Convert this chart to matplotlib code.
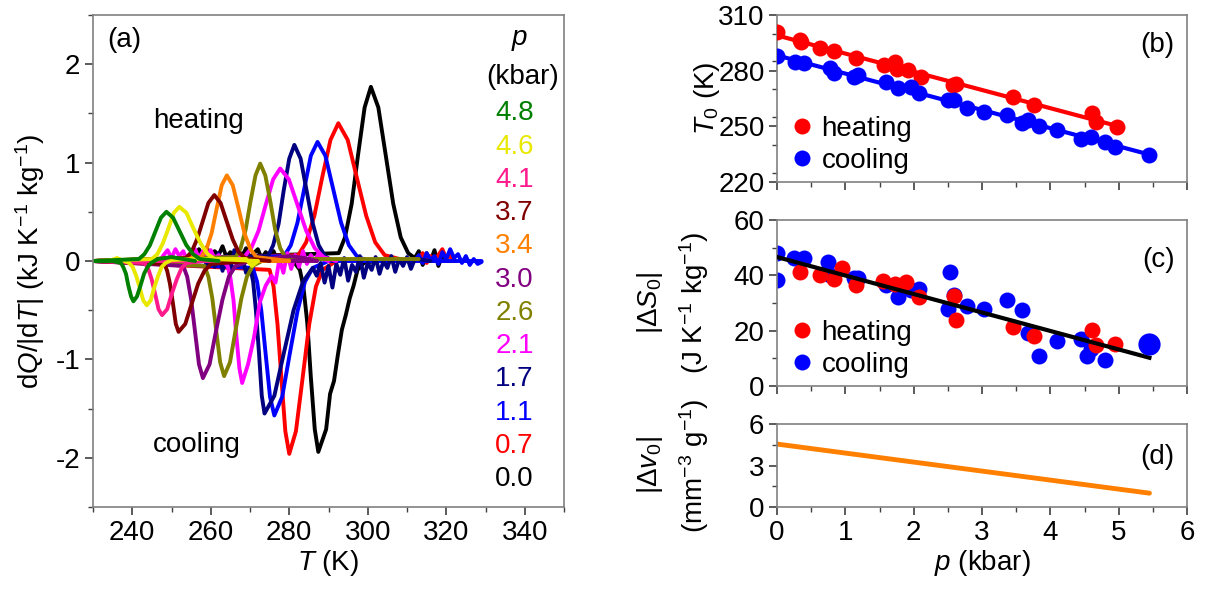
import numpy as np
import matplotlib
matplotlib.use("Agg")
import matplotlib.pyplot as plt
from matplotlib.ticker import MultipleLocator

plt.rcParams['font.family'] = ['Liberation Sans', 'DejaVu Sans']
plt.rcParams['mathtext.fontset'] = 'custom'
plt.rcParams['mathtext.rm'] = 'Liberation Sans'
plt.rcParams['mathtext.it'] = 'Liberation Sans:italic'
plt.rcParams['mathtext.bf'] = 'Liberation Sans:bold'
plt.rcParams['axes.unicode_minus'] = False

FS = 20

# ---------------- Panel (a) data ----------------
pressures = ["4.8", "4.6", "4.1", "3.7", "3.4", "3.0", "2.6", "2.1", "1.7", "1.1", "0.7", "0.0"]
colors = ["#008000", "#e8e800", "#ff1a8c", "#800000", "#ff8000", "#800080",
          "#808000", "#ff00ff", "#000080", "#0000ff", "#ff0000", "#000000"]

heat_T = [
    [230, 241.7, 243.1, 244.5, 245.9, 247.3, 248.7, 250.4, 252.1, 253.8, 255.5, 257.2, 262],
    [230, 245.0, 246.4, 247.8, 249.2, 250.6, 252.0, 253.8, 255.6, 257.4, 259.2, 261.0, 272],
    [230, 262],
    [230, 253.6, 255.1, 256.5, 258.0, 259.4, 260.9, 262.5, 264.0, 265.6, 267.1, 268.7, 275],
    [230, 257.6, 258.9, 260.2, 261.5, 262.8, 264.1, 265.6, 267.1, 268.6, 270.1, 271.6, 280],
    [230, 287],
    [230, 266.4, 267.6, 268.9, 270.1, 271.4, 272.6, 273.9, 275.2, 276.4, 277.7, 279.0, 283],
    [230, 268.5, 270.3, 272.2, 274.0, 275.9, 277.7, 279.9, 282.1, 284.3, 286.5, 288.7, 292],
    [230, 274.6, 275.9, 277.3, 278.6, 280.0, 281.3, 282.9, 284.4, 286.0, 287.5, 289.1, 291],
    [230, 278.7, 280.4, 282.1, 283.8, 285.5, 287.2, 289.2, 291.2, 293.2, 295.2, 297.2, 300,
     312, 313, 314, 315, 316, 317, 318, 319, 320, 321, 322, 323, 324, 325, 326, 327, 328, 329],
    [230, 282.3, 284.3, 286.4, 288.4, 290.5, 292.5, 294.9, 297.2, 299.6, 301.9, 304.3, 310,
     313, 314, 315, 316, 317, 318, 319, 320, 321, 322],
    [230, 292.6, 294.2, 295.9, 297.5, 299.2, 300.8, 302.7, 304.6, 306.5, 308.4, 310.3, 312,
     313, 314, 315, 316, 317, 318, 319, 320, 321, 322],
]
heat_Q = [
    [0, 0.02, 0.07, 0.16, 0.30, 0.44, 0.50, 0.44, 0.30, 0.16, 0.07, 0.02, 0],
    [0, 0.02, 0.07, 0.18, 0.33, 0.49, 0.55, 0.49, 0.33, 0.18, 0.07, 0.02, 0],
    [0, 0],
    [0, 0.03, 0.09, 0.22, 0.41, 0.59, 0.67, 0.59, 0.41, 0.22, 0.09, 0.03, 0],
    [0, 0.04, 0.12, 0.28, 0.53, 0.77, 0.87, 0.77, 0.53, 0.28, 0.12, 0.04, 0],
    [0, 0],
    [0, 0.04, 0.13, 0.32, 0.60, 0.87, 0.99, 0.87, 0.60, 0.32, 0.13, 0.04, 0],
    [0, 0.04, 0.13, 0.31, 0.57, 0.83, 0.94, 0.83, 0.57, 0.31, 0.13, 0.04, 0],
    [0, 0.05, 0.16, 0.38, 0.72, 1.04, 1.18, 1.04, 0.72, 0.38, 0.16, 0.05, 0],
    [0, 0.05, 0.16, 0.39, 0.73, 1.07, 1.21, 1.07, 0.73, 0.39, 0.16, 0.05, 0,
     0, 0.06, -0.02, 0.08, 0.01, 0.05, -0.03, 0.09, 0.02, 0.12, 0.03, 0.07, -0.02, 0.05, -0.04, 0.02, -0.03, -0.01],
    [0, 0.06, 0.19, 0.46, 0.85, 1.23, 1.40, 1.23, 0.85, 0.46, 0.19, 0.06, 0,
     0.02, 0.08, -0.02, 0.05, 0.0, 0.06, 0.12, 0.03, 0.05, 0.0],
    [0, 0.08, 0.24, 0.58, 1.07, 1.56, 1.77, 1.56, 1.07, 0.58, 0.24, 0.08, 0.03,
     0.10, -0.04, 0.08, 0.0, 0.11, -0.05, 0.06, 0.02, 0.07, 0.0],
]
cool_T = [
    [230, 235, 237.1, 237.7, 238.4, 239.0, 239.7, 240.3, 241.2, 242.1, 243.0, 243.9, 244.8, 246.5, 250, 253, 256],
    [230, 234, 236.1, 238.0, 239.2, 240.1, 241.0, 241.9, 242.8, 243.7, 244.7, 245.6, 246.6, 247.5, 248.5,
     250, 255, 265, 269, 270.5, 272],
    [230, 243.1, 244.0, 244.9, 245.8, 246.7, 247.6, 248.9, 250.1, 251.4, 252.6, 253.9, 258],
    [230, 248.2, 248.9, 249.6, 250.4, 251.1, 251.8, 253.5, 255.1, 256.8, 258.4, 260.1, 270],
    [230, 280],
    [230, 253.0, 254.0, 255.0, 256.0, 257.0, 258.0, 259.7, 261.3, 263.0, 264.6, 266.3, 270, 276, 280, 284, 287],
    [230, 258.4, 259.4, 260.4, 261.4, 262.4, 263.4, 264.9, 266.3, 267.8, 269.2, 270.7, 274, 313],
    [230, 247, 248, 249, 250, 251, 252, 253, 254, 255, 256, 257, 258, 259, 260, 261, 262, 263,
     264.3, 265.0, 265.8, 266.5, 267.3, 268.0, 269.5, 271.0, 272.5, 274.0, 275.5,
     276.5, 277.5, 278.5, 279.5, 280.5, 281.5, 282.5, 283.5, 284.5, 285.5, 286.5, 287.5, 288.5, 290],
    [230, 257, 258, 259, 260, 261, 262, 263, 264, 265, 266, 267, 268, 269,
     270.1, 270.8, 271.5, 272.3, 273.0, 273.7, 276.2, 278.6, 281.1, 283.5, 286.0,
     287, 288, 289, 290, 291, 292, 293, 294, 295, 296, 297, 298, 299, 300, 301, 302, 303, 304,
     305, 306, 307, 308, 309, 310, 311, 312, 316],
    [230, 270.7, 271.8, 272.9, 274.0, 275.1, 276.2, 278.2, 280.1, 282.1, 284.0, 286.0, 290, 329],
    [230, 275.0, 276.0, 277.0, 278.0, 279.0, 280.0, 281.7, 283.4, 285.1, 286.8, 288.5, 292, 322],
    [230, 254, 255, 256, 257, 258, 259, 260, 261, 262, 263, 264, 265, 266, 267, 268, 269, 270, 271, 272,
     273, 274, 275, 276, 277, 278, 279, 280, 281,
     282.7, 283.6, 284.6, 285.5, 286.5, 287.4, 289.4, 290.4, 291.4, 292.4, 293.4, 294.4, 295.4, 296.4,
     297.4, 299, 302, 322],
]
cool_Q = [
    [0, 0, -0.02, -0.06, -0.13, -0.25, -0.36, -0.41, -0.36, -0.25, -0.13, -0.06, -0.02, 0.02, 0.04, 0.02, 0],
    [0, 0, 0.03, 0, -0.02, -0.06, -0.15, -0.27, -0.40, -0.45, -0.40, -0.27, -0.15, -0.06, -0.02,
     0.01, 0.02, 0.02, 0.02, -0.05, 0],
    [0, -0.02, -0.07, -0.18, -0.33, -0.49, -0.55, -0.49, -0.33, -0.18, -0.07, -0.02, 0],
    [0, -0.03, -0.10, -0.23, -0.44, -0.64, -0.72, -0.64, -0.44, -0.23, -0.10, -0.03, 0],
    [0, 0],
    [0, -0.05, -0.16, -0.39, -0.72, -1.05, -1.19, -1.05, -0.72, -0.39, -0.16, -0.05, 0, 0.03, 0.05, 0.03, 0],
    [0, -0.05, -0.16, -0.38, -0.71, -1.03, -1.17, -1.03, -0.71, -0.38, -0.16, -0.05, 0.02, 0.02],
    [0, 0.0, 0.06, 0.11, 0.03, 0.12, 0.05, 0.10, 0.0, 0.08, 0.12, 0.03, 0.10, 0.05, 0.11, 0.02, 0.06, 0.0,
     -0.05, -0.17, -0.40, -0.75, -1.09, -1.24, -1.05, -0.78, -0.42, -0.25, -0.15,
     -0.22, 0.02, -0.12, 0.08, -0.08, 0.06, -0.06, 0.10, -0.03, 0.06, 0.0, 0.08, 0.02, 0],
    [0, 0.0, 0.06, -0.04, 0.10, -0.06, 0.08, -0.10, 0.05, -0.08, 0.11, -0.05, 0.04, -0.12,
     -0.07, -0.21, -0.50, -0.94, -1.37, -1.55, -1.37, -0.94, -0.50, -0.21, -0.07,
     -0.15, -0.02, -0.22, -0.05, -0.27, -0.03, -0.14, 0.03, -0.20, -0.04, -0.11, 0.05, -0.17, -0.02,
     -0.09, 0.04, -0.13, 0.0, -0.07, 0.05, -0.11, 0.02, -0.05, 0.04, -0.08, 0.02, 0],
    [0, -0.07, -0.21, -0.51, -0.95, -1.38, -1.57, -1.38, -0.95, -0.51, -0.21, -0.07, 0, 0],
    [0, -0.09, -0.26, -0.64, -1.19, -1.73, -1.96, -1.73, -1.19, -0.64, -0.26, -0.09, 0, 0],
    [0, 0.0, 0.08, 0.03, 0.12, 0.05, 0.14, 0.02, 0.10, 0.06, 0.15, 0.04, 0.09, 0.0, 0.11, 0.05, 0.13, 0.03,
     0.08, 0.12, 0.02, 0.09, 0.04, 0.10, 0.0, 0.06, 0.02, 0.05, 0.0,
     -0.09, -0.26, -0.63, -1.18, -1.71, -1.94, -1.71, -1.35, -1.22, -0.95, -0.70, -0.55, -0.38, -0.25,
     -0.09, -0.02, 0, 0],
]

# ---------------- Panel (b) data ----------------
p_heat_b = [0.0, 0.33, 0.35, 0.63, 0.83, 1.15, 1.57, 1.73, 1.75, 1.92, 2.10, 2.58, 2.62, 3.46, 3.76, 4.61, 4.67, 4.98]
T0_heat = [301.0, 296.5, 295.5, 292.0, 290.7, 286.6, 283.0, 284.8, 281.0, 280.3, 276.7, 272.2, 273.0, 265.6, 261.4, 257.0, 252.4, 249.7]
p_cool_b = [0.0, 0.27, 0.39, 0.77, 0.83, 1.12, 1.19, 1.59, 1.77, 1.96, 2.08, 2.50, 2.59, 2.78, 3.03, 3.37,
            3.58, 3.68, 3.83, 4.10, 4.45, 4.59, 4.80, 4.95, 5.45]
T0_cool = [287.9, 284.8, 284.3, 281.2, 278.5, 276.4, 277.6, 274.0, 270.4, 271.3, 267.7, 264.1, 264.1, 260.0,
           257.5, 256.0, 251.9, 253.3, 250.1, 247.9, 243.4, 244.3, 241.7, 239.0, 234.5]

# ---------------- Panel (c) data ----------------
p_heat_c = [0.34, 0.63, 0.84, 0.95, 1.15, 1.55, 1.73, 1.89, 2.08, 2.59, 2.62, 3.46, 3.76, 4.61, 4.67, 4.95]
dS_heat = [41.3, 40.1, 38.5, 42.5, 36.4, 37.9, 37.0, 37.7, 32.2, 32.7, 24.0, 21.4, 18.1, 20.1, 14.7, 15.3]
p_cool_c = [0.0, 0.0, 0.25, 0.39, 0.74, 0.78, 1.12, 1.19, 1.59, 1.77, 1.96, 2.08, 2.50, 2.53, 2.59, 2.78,
            3.03, 3.37, 3.58, 3.68, 3.83, 4.10, 4.45, 4.53, 4.59, 4.80, 5.45]
dS_cool = [47.9, 38.3, 46.1, 46.1, 44.9, 40.1, 39.2, 38.9, 36.5, 32.2, 34.6, 35.2, 28.0, 41.3, 32.8, 28.8,
           28.0, 31.0, 27.6, 19.2, 10.7, 16.3, 17.1, 10.7, 13.5, 9.5, 15.3]
fit_p = [0.0, 5.45]

# ---------------- Panel (d) data ----------------
p_v = [0.0, 5.45]
dv = [4.55, 1.0]

# ---------------- figure ----------------
fig = plt.figure(figsize=(12.06, 5.90), dpi=100)
W, H = 1206.0, 590.0

def box(l, t, r, b):
    return [l / W, 1 - b / H, (r - l) / W, (b - t) / H]

axa = fig.add_axes(box(93, 15, 564, 507))
axb = fig.add_axes(box(777, 15, 1187, 182))
axc = fig.add_axes(box(777, 220, 1187, 386))
axd = fig.add_axes(box(777, 424, 1187, 507))

spine_col = '#808080'
for ax in (axa, axb, axc, axd):
    for s in ax.spines.values():
        s.set_color(spine_col)
        s.set_linewidth(1.2)
    ax.tick_params(which='both', direction='out', color='#404040', labelsize=FS,
                   top=False, right=False, pad=3)
    ax.tick_params(which='major', length=6, width=1.2)
    ax.tick_params(which='minor', length=3.5, width=1.0)

# panel (a)
for i in range(len(pressures) - 1, -1, -1):
    c = colors[i]
    axa.plot(cool_T[i], cool_Q[i], color=c, lw=2.8, solid_joinstyle='round', solid_capstyle='round')
    axa.plot(heat_T[i], heat_Q[i], color=c, lw=2.8, solid_joinstyle='round', solid_capstyle='round')

axa.set_xlim(230, 350)
axa.set_ylim(-2.5, 2.5)
axa.xaxis.set_minor_locator(MultipleLocator(10))
axa.set_xticks([240, 260, 280, 300, 320, 340])
axa.set_yticks([-2, -1, 0, 1, 2])
axa.yaxis.set_minor_locator(MultipleLocator(0.5))
axa.set_xlabel(r"$T$ (K)", fontsize=FS, labelpad=2)
axa.set_ylabel(r"d$Q$/|d$T$| (kJ K$^{-1}$ kg$^{-1}$)", fontsize=FS, labelpad=6)
axa.text(0.03, 0.95, "(a)", transform=axa.transAxes, fontsize=FS, va='center', ha='left')
axa.text(245.3, 1.42, "heating", fontsize=FS, va='center', ha='left')
axa.text(245.3, -1.87, "cooling", fontsize=FS, va='center', ha='left')
axa.text(0.905, 2.25, r"$p$", transform=axa.get_yaxis_transform(), fontsize=FS, ha='center', va='center')
axa.text(0.99, 1.87, "(kbar)", transform=axa.get_yaxis_transform(), fontsize=FS, ha='right', va='center')
for i, (pr, c) in enumerate(zip(pressures, colors)):
    axa.text(0.895, 1.50 - i * 0.338, pr, transform=axa.get_yaxis_transform(),
             fontsize=FS, color=c, ha='center', va='center')

# panel (b)
pb_h = np.array(p_heat_b); pb_c = np.array(p_cool_b)
kh = np.polyfit(pb_h, T0_heat, 1)
kc = np.polyfit(pb_c, T0_cool, 1)
axb.plot([pb_h.min(), pb_h.max()], np.polyval(kh, [pb_h.min(), pb_h.max()]), color='#ff0000', lw=3, zorder=2)
axb.plot([pb_c.min(), pb_c.max()], np.polyval(kc, [pb_c.min(), pb_c.max()]), color='#0000ff', lw=3, zorder=2)
axb.plot(p_heat_b, T0_heat, 'o', color='#ff0000', ms=11.5, mec='none', zorder=3, label='heating')
axb.plot(p_cool_b, T0_cool, 'o', color='#0000ff', ms=11.5, mec='none', zorder=3, label='cooling')
axb.set_ylim(220, 310)
axb.set_yticks([220, 250, 280, 310])
axb.yaxis.set_minor_locator(MultipleLocator(15))
axb.set_ylabel(r"$T_0$ (K)", fontsize=FS)
axb.text(0.97, 0.82, "(b)", transform=axb.transAxes, fontsize=FS, ha='right', va='center')
axb.legend(loc='lower left', frameon=False, fontsize=FS, handletextpad=0.1, borderaxespad=0.1,
           labelspacing=0.2, handlelength=1.2, borderpad=0.2)

# panel (c)
allp = np.concatenate([p_heat_c, p_cool_c])
alls = np.concatenate([dS_heat, dS_cool])
kS = np.polyfit(allp, alls, 1)
axc.plot(fit_p, np.polyval(kS, fit_p), color='black', lw=3, zorder=4)
axc.plot(p_cool_c[:-1], dS_cool[:-1], 'o', color='#0000ff', ms=11.5, mec='none', zorder=2, label='cooling')
axc.plot(p_heat_c, dS_heat, 'o', color='#ff0000', ms=11.5, mec='none', zorder=3, label='heating')
axc.plot(p_cool_c[-1:], dS_cool[-1:], 'o', color='#0000ff', ms=16, mec='none', zorder=5)
axc.set_ylim(0, 60)
axc.set_yticks([0, 20, 40, 60])
axc.yaxis.set_minor_locator(MultipleLocator(10))
axc.set_ylabel("|Δ$S_0$|\n(J K$^{-1}$ kg$^{-1}$)", fontsize=FS, linespacing=1.5)
axc.text(0.97, 0.76, "(c)", transform=axc.transAxes, fontsize=FS, ha='right', va='center')
h, l = axc.get_legend_handles_labels()
axc.legend([h[1], h[0]], [l[1], l[0]], loc='lower left', frameon=False, fontsize=FS, handletextpad=0.1,
           borderaxespad=0.1, labelspacing=0.2, handlelength=1.2, borderpad=0.2)

# panel (d)
axd.plot(p_v, dv, color='#ff8000', lw=3.5, solid_capstyle='round')
axd.set_ylim(0, 6)
axd.set_yticks([0, 3, 6])
axd.yaxis.set_minor_locator(MultipleLocator(1.5))
axd.set_ylabel("|Δ$v_0$|\n(mm$^{-3}$ g$^{-1}$)", fontsize=FS, linespacing=1.5)
axd.text(0.97, 0.6, "(d)", transform=axd.transAxes, fontsize=FS, ha='right', va='center')
axd.set_xlabel(r"$p$ (kbar)", fontsize=FS, labelpad=2)

for ax in (axb, axc, axd):
    ax.set_xlim(0, 6)
    ax.xaxis.set_major_locator(MultipleLocator(1))
    ax.xaxis.set_minor_locator(MultipleLocator(0.5))
for ax in (axb, axc):
    ax.tick_params(axis='x', labelbottom=False)

axb.yaxis.set_label_coords(-0.135, 0.5)
axc.yaxis.set_label_coords(-0.16, 0.5)
axd.yaxis.set_label_coords(-0.16, 0.5)

fig.savefig("out.png", dpi=100)
